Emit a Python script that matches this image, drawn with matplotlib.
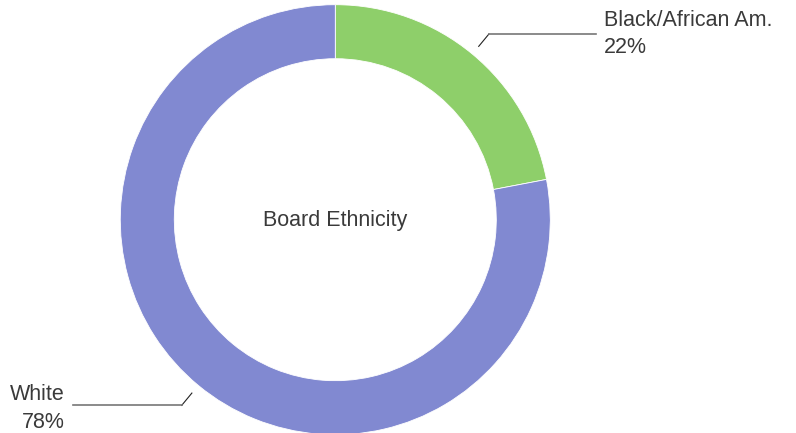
import numpy as np
import matplotlib.pyplot as plt

# data
labels = ["Black/African Am.", "White"]
values = [22, 78]
colors = ["#8ecf6a", "#8189d1"]
center_title = "Board Ethnicity"

W, H = 796, 433
plt.rcParams['font.family'] = ['Liberation Sans', 'DejaVu Sans']

fig = plt.figure(figsize=(W / 100, H / 100), dpi=100)
ax = fig.add_axes([0, 0, 1, 1])

cx, cy, r = 335.3, H - 219.7, 215
wedges, _ = ax.pie(values, colors=colors, startangle=90, counterclock=False,
                   center=(cx, cy), radius=r, frame=True,
                   wedgeprops=dict(width=54, edgecolor='white', linewidth=0.6))
ax.set_xlim(0, W)
ax.set_ylim(0, H)
ax.axis('off')

text_color = '#3a3a3a'
fs = 15.5
ax.text(cx, cy - 1, center_title, ha='center', va='center', fontsize=fs, color=text_color)

for w, lab, v in zip(wedges, labels, values):
    mid = np.deg2rad((w.theta1 + w.theta2) / 2)
    x0, y0 = cx + (r + 10) * np.cos(mid), cy + (r + 10) * np.sin(mid)
    x1, y1 = cx + (r + 26) * np.cos(mid), cy + (r + 26) * np.sin(mid)
    ax.plot([x0, x1], [y0, y1], color='#222222', lw=0.8)
    if np.cos(mid) > 0:
        x2 = 596
        ax.plot([x1, x2], [y1, y1], color='#777777', lw=1.2)
        ax.text(x2 + 8, y1 + 14, lab, ha='left', va='center', fontsize=fs, color=text_color)
        ax.text(x2 + 8, y1 - 13, f"{v}%", ha='left', va='center', fontsize=fs, color=text_color)
    else:
        x2 = 73
        ax.plot([x1, x2], [y1, y1], color='#777777', lw=1.2)
        ax.text(x2 - 8, y1 + 11, lab, ha='right', va='center', fontsize=fs, color=text_color)
        ax.text(x2 - 8, y1 - 17, f"{v}%", ha='right', va='center', fontsize=fs, color=text_color)

fig.savefig("out.png", dpi=100)
